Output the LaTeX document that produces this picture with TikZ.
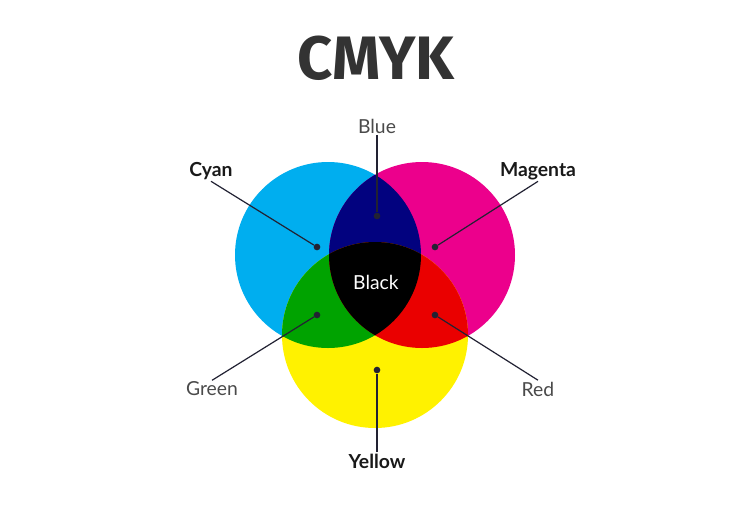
\documentclass[tikz,border=0pt]{standalone}
\usepackage{fontspec}
\setmainfont{Lato}
\newfontfamily\titlefont{Fira Sans}
\usetikzlibrary{positioning}

\definecolor{inkcyan}{HTML}{00AEEF}
\definecolor{inkmagenta}{HTML}{EC008C}
\definecolor{inkyellow}{HTML}{FFF200}
\definecolor{mixblue}{HTML}{02027F}
\definecolor{mixgreen}{HTML}{00A300}
\definecolor{mixred}{HTML}{EA0000}
\definecolor{labelgray}{HTML}{4A4A4A}
\definecolor{titlegray}{HTML}{333333}
\definecolor{pingray}{HTML}{222233}

\tikzset{
  lbl/.style={font=\fontsize{14.5}{16}\selectfont, text=labelgray, inner sep=1pt},
  boldlbl/.style={font=\bfseries\fontsize{14.5}{16}\selectfont, text=black!90, inner sep=1pt},
  pin/.style={circle, fill=pingray, inner sep=0pt, minimum size=5pt},
  leader/.style={draw=pingray, line width=0.9pt},
}

\begin{document}
\begin{tikzpicture}[x=0.75pt,y=-0.75pt]
\useasboundingbox (0,0) rectangle (750,512);
\fill[white] (0,0) rectangle (750,512);

% title
\node[font=\titlefont\bfseries\fontsize{46}{50}\selectfont, text=titlegray] (title) at (376,58) {CMYK};

% the three inks
\fill[inkcyan] (328,255) circle (93);
\fill[inkmagenta] (422,255) circle (93);
\fill[inkyellow] (375,335) circle (93);

% overlaps
\begin{scope}
  \clip (328,255) circle (93);
  \fill[mixblue] (422,255) circle (93);
  \fill[mixgreen] (375,335) circle (93);
\end{scope}
\begin{scope}
  \clip (422,255) circle (93);
  \fill[mixred] (375,335) circle (93);
\end{scope}
\begin{scope}
  \clip (328,255) circle (93);
  \clip (422,255) circle (93);
  \fill[black] (375,335) circle (93);
\end{scope}

\node[font=\fontsize{14.5}{16}\selectfont, text=white] (black) at (376,282) {Black};

% pins
\node[pin] (pblue) at (377,216) {};
\node[pin] (pcyan) at (317,247) {};
\node[pin] (pmagenta) at (435,247) {};
\node[pin] (pgreen) at (317,315) {};
\node[pin] (pred) at (435,315) {};
\node[pin] (pyellow) at (377,370) {};

% labels
\node[lbl] (blue) at (377,126) {Blue};
\node[boldlbl] (cyan) at (211,171) {Cyan};
\node[boldlbl] (magenta) at (538,171) {Magenta};
\node[lbl] (green) at (212,389) {Green};
\node[lbl] (red) at (538,389) {Red};
\node[boldlbl] (yellow) at (377,461) {Yellow};

% leaders
\draw[leader] (blue.south) -- (pblue);
\draw[leader] (cyan.south) -- (pcyan);
\draw[leader] (magenta.south) -- (pmagenta);
\draw[leader] (green.north) -- (pgreen);
\draw[leader] (red.north) -- (pred);
\draw[leader] (yellow.north) -- (pyellow);
\end{tikzpicture}
\end{document}
